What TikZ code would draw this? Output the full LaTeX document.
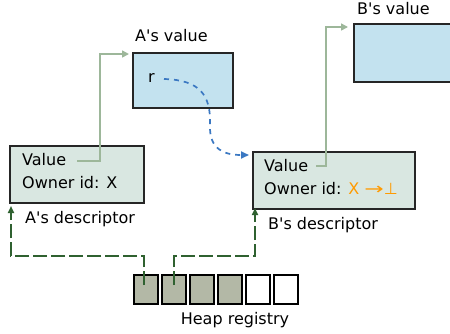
\documentclass[tikz,border=0pt]{standalone}
\usepackage{fontspec}
\setmainfont{DejaVu Sans}[Ligatures=TeXOff]
\usetikzlibrary{arrows.meta}
\definecolor{descfill}{HTML}{D9E7E1}
\definecolor{valfill}{HTML}{C3E2EF}
\definecolor{cellfill}{HTML}{B3B8A6}
\definecolor{lightgreen}{HTML}{9DB79A}
\definecolor{darkgreen}{HTML}{2F6130}
\definecolor{dashblue}{HTML}{3B78C2}
\definecolor{orangex}{HTML}{FF9A00}
\tikzset{
  desc/.style={draw=black!85, line width=1.6pt, fill=descfill, anchor=north west, inner sep=0pt},
  valbox/.style={draw=black!85, line width=1.6pt, fill=valfill, anchor=north west, inner sep=0pt},
  cell/.style={draw=black, line width=1.8pt, minimum width=24, minimum height=29, anchor=north west, inner sep=0pt},
  lbl/.style={anchor=west, inner sep=0pt, font=\fontsize{16}{19}\selectfont},
  ptr/.style={draw=lightgreen, line width=1.6pt, -{Triangle[length=7pt,width=7pt]}},
  reg/.style={draw=darkgreen, line width=1.6pt, dash pattern=on 14pt off 4pt, -{Triangle[length=7pt,width=6pt]}},
  ref/.style={draw=dashblue, line width=1.7pt, dash pattern=on 5pt off 5pt, -{Triangle[length=8pt,width=7pt]}}
}
\begin{document}
\begin{tikzpicture}[x=1pt,y=-1pt]
\clip (0,0) rectangle (450,333);
\fill[white] (0,0) rectangle (450,333);
% boxes
\node[desc, minimum width=134, minimum height=57] (adesc) at (9,145) {};
\node[valbox, minimum width=100, minimum height=55] (aval) at (132,52) {};
\node[desc, minimum width=162, minimum height=57] (bdesc) at (252,151) {};
\node[valbox, minimum width=110, minimum height=58] (bval) at (353,23) {};
% texts
\node[lbl] (av) at (22,160) {Value};
\node[lbl] (ao) at (22,183) {Owner id: X};
\node[lbl] (bv) at (264,166) {Value};
\node[lbl] (bo) at (264,189) {Owner id: \textcolor{orangex}{X \scalebox{1.45}[1]{→}⊥}};
\node[lbl] (ar) at (148,78) {r};
\node[lbl] (alab) at (135,36) {A's value};
\node[lbl] (blab) at (357,9) {B's value};
\node[lbl] (adlab) at (25,219) {A's descriptor};
\node[lbl] (bdlab) at (268,225) {B's descriptor};
\node[lbl, anchor=center] (hlab) at (235,320) {Heap registry};
% cells
\foreach \i in {0,...,3}{
  \node[cell, fill=cellfill] (c\i) at (133+28*\i,274) {};
}
\foreach \i in {4,5}{
  \node[cell, fill=white] (c\i) at (133+28*\i,274) {};
}
% pointer lines
\coordinate (avend) at (77,161);
\coordinate (bvend) at (316,166);
\draw[ptr] (avend) -- (100,161) -- (100,54) -- ([xshift=-3pt]aval.west |- 0,54);
\draw[ptr] (bvend) -- (326,166) -- (326,27) -- ([xshift=-5pt]bval.west |- 0,27);
% registry arrows
\coordinate (r1) at (144,285);
\coordinate (r2) at (174,285);
\draw[reg] (r1) -- (144,256) -- (11,256) -- (11,206);
\draw[reg] (r2) -- (174,256) -- (255,256) -- (255,208);
% reference curve
\coordinate (rstart) at (164,79);
\coordinate (rend) at (249,155);
\draw[ref] (rstart) .. controls (200,80) and (211,95) .. (210,125) .. controls (209,150) and (225,155) .. (rend);
\end{tikzpicture}
\end{document}
